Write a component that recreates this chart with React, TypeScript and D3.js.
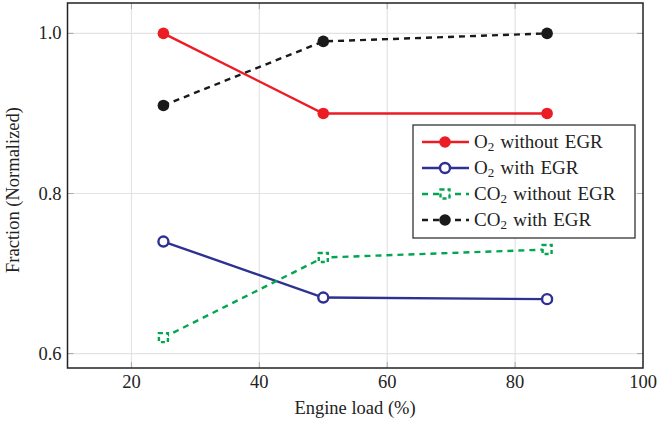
import React from "react";
import * as d3 from "d3";

const loads = [25, 50, 85];
const o2WithoutEGR = [1.0, 0.9, 0.9];
const o2WithEGR = [0.74, 0.67, 0.668];
const co2WithoutEGR = [0.62, 0.72, 0.73];
const co2WithEGR = [0.91, 0.99, 1.0];
const xTicks = [20, 40, 60, 80, 100];
const yTicks = [0.6, 0.8, 1.0];

const W = 657, H = 423;
const L = 67.5, R = 643, T = 3, B = 368;
const FONT = "Liberation Serif, Times New Roman, Times, serif";
const FS = 18.5;

type Series = { name: string; sub: string; rest: string; values: number[]; color: string; dash?: string; marker: "fcircle" | "ocircle" | "dsquare" | "bcircle" };
const series: Series[] = [
  { name: "O2 without EGR", sub: "O", rest: " without EGR", values: o2WithoutEGR, color: "#ec1c24", marker: "fcircle" },
  { name: "O2 with EGR", sub: "O", rest: " with EGR", values: o2WithEGR, color: "#2e3192", marker: "ocircle" },
  { name: "CO2 without EGR", sub: "CO", rest: " without EGR", values: co2WithoutEGR, color: "#00a650", dash: "6,5", marker: "dsquare" },
  { name: "CO2 with EGR", sub: "CO", rest: " with EGR", values: co2WithEGR, color: "#1a1a1a", dash: "6,5", marker: "bcircle" },
];

function Marker({ s, cx, cy }: { s: Series; cx: number; cy: number }) {
  if (s.marker === "fcircle") return <circle cx={cx} cy={cy} r={5.8} fill={s.color} />;
  if (s.marker === "ocircle") return <circle cx={cx} cy={cy} r={5} fill="white" stroke={s.color} strokeWidth={2.4} />;
  if (s.marker === "bcircle") return <circle cx={cx} cy={cy} r={5.8} fill={s.color} />;
  return <rect x={cx - 4.5} y={cy - 4.5} width={9} height={9} fill="white" stroke={s.color} strokeWidth={2.4} strokeDasharray="4,3" />;
}

export default function App() {
  const x = d3.scaleLinear().domain([10, 100]).range([L, R]);
  const y = d3.scaleLinear().domain([0.582, 1.038]).range([B, T]);
  const line = d3.line<[number, number]>().x(d => x(d[0])).y(d => y(d[1]));
  const legX = 413, legY = 125, legW = 222, legH = 113;
  const txt = { fontFamily: FONT, fontSize: FS, fill: "#222" } as React.CSSProperties;
  const legTxt = { fontFamily: FONT, fontSize: 19, fill: "#222", wordSpacing: 1.5 } as React.CSSProperties;
  return (
    <svg width={W} height={H} style={{ position: "absolute", left: 0, top: 0 }}>
      <rect width={W} height={H} fill="white" />
      {xTicks.filter(t => t < 100).map(t => (
        <line key={"gx" + t} x1={x(t)} x2={x(t)} y1={T} y2={B} stroke="#e3e3e3" strokeWidth={1.2} />
      ))}
      {yTicks.map(t => (
        <line key={"gy" + t} x1={L} x2={R} y1={y(t)} y2={y(t)} stroke="#e3e3e3" strokeWidth={1.2} />
      ))}
      {xTicks.filter(t => t < 100).map(t => (
        <g key={"tx" + t}>
          <line x1={x(t)} x2={x(t)} y1={B} y2={B - 6} stroke="#a8a8a8" strokeWidth={1} />
          <line x1={x(t)} x2={x(t)} y1={T} y2={T + 6} stroke="#a8a8a8" strokeWidth={1} />
        </g>
      ))}
      {yTicks.map(t => (
        <g key={"ty" + t}>
          <line x1={L} x2={L + 6} y1={y(t)} y2={y(t)} stroke="#a8a8a8" strokeWidth={1} />
          <line x1={R} x2={R - 6} y1={y(t)} y2={y(t)} stroke="#a8a8a8" strokeWidth={1} />
        </g>
      ))}
      {series.map(s => (
        <g key={s.name}>
          <path d={line(loads.map((l, i) => [l, s.values[i]] as [number, number])) || ""} fill="none" stroke={s.color} strokeWidth={2.4} strokeDasharray={s.dash} />
          {loads.map((l, i) => <Marker key={i} s={s} cx={x(l)} cy={y(s.values[i])} />)}
        </g>
      ))}
      <rect x={L} y={T} width={R - L} height={B - T} fill="none" stroke="#222" strokeWidth={1.5} />
      {xTicks.map(t => (
        <text key={"lx" + t} x={x(t)} y={B + 20} textAnchor="middle" style={txt}>{t}</text>
      ))}
      {yTicks.map(t => (
        <text key={"ly" + t} x={L - 6} y={y(t) + 6} textAnchor="end" style={txt}>{t.toFixed(1)}</text>
      ))}
      <text x={355} y={414} textAnchor="middle" style={txt}>Engine load (%)</text>
      <text transform={`translate(19,190) rotate(-90)`} textAnchor="middle" style={txt}>Fraction (Normalized)</text>
      <rect x={legX} y={legY} width={legW} height={legH} fill="white" stroke="#333" strokeWidth={1.3} />
      {series.map((s, i) => {
        const cy = legY + 17 + i * 26;
        return (
          <g key={"leg" + s.name}>
            <line x1={legX + 9} x2={legX + 56} y1={cy} y2={cy} stroke={s.color} strokeWidth={2.4} strokeDasharray={s.dash ? "6,5" : undefined} />
            <Marker s={s} cx={legX + 32} cy={cy} />
            <text x={legX + 61} y={cy + 6} style={legTxt}>
              {s.sub}
              <tspan style={{ fontSize: 13 }} dy={3}>2</tspan>
              <tspan dy={-3}>{s.rest}</tspan>
            </text>
          </g>
        );
      })}
    </svg>
  );
}
